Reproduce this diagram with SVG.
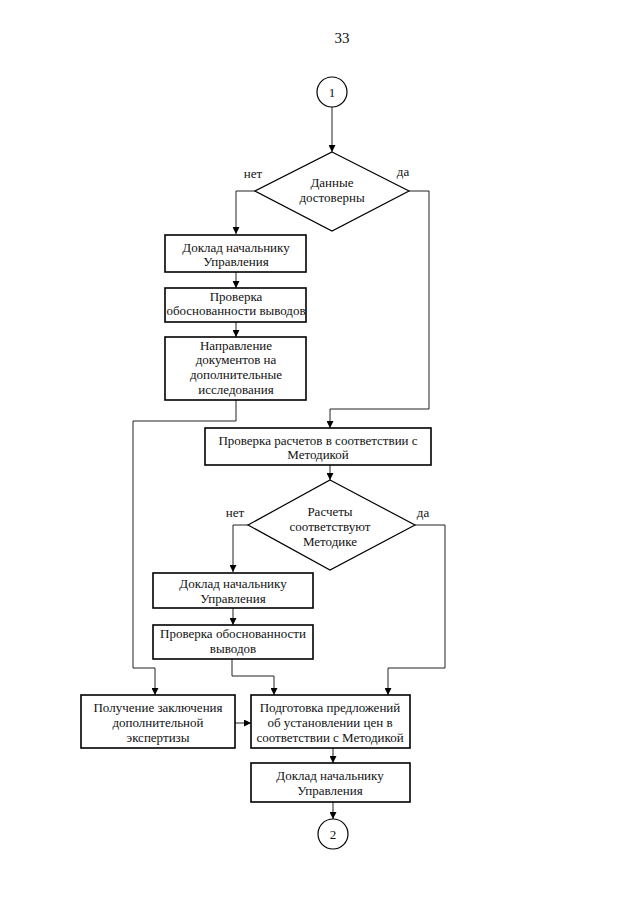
<svg xmlns="http://www.w3.org/2000/svg" width="640" height="905" viewBox="0 0 640 905">
<style>
.box{fill:#fff;stroke:#000;stroke-width:1.6}
.dia{fill:#fff;stroke:#000;stroke-width:1.2}
.con{fill:none;stroke:#222;stroke-width:1}
text{font-family:"Liberation Serif","DejaVu Serif","Times New Roman",serif;font-size:13px;fill:#111;text-anchor:middle}
</style>
<defs>
<marker id="ah" viewBox="0 0 10 10" refX="10" refY="5" markerWidth="7" markerHeight="7" markerUnits="userSpaceOnUse" orient="auto">
<path d="M0,0 L10,5 L0,10 z" fill="#000"/>
</marker>
</defs>
<rect width="640" height="905" fill="#fff"/>
<text x="342" y="43" style="font-size:15px">33</text>

<g id="connectors">
<line class="con" x1="332" y1="107" x2="332" y2="152" marker-end="url(#ah)"/>
<polyline class="con" points="255,191 236,191 236,234" marker-end="url(#ah)"/>
<polyline class="con" points="409,191 429,191 429,409 330,409 330,428" marker-end="url(#ah)"/>
<line class="con" x1="236" y1="272" x2="236" y2="288" marker-end="url(#ah)"/>
<line class="con" x1="236" y1="322" x2="236" y2="337" marker-end="url(#ah)"/>
<polyline class="con" points="236,400 236,421 133,421 133,668 155,668 155,695" marker-end="url(#ah)"/>
<line class="con" x1="330" y1="465" x2="330" y2="480" marker-end="url(#ah)"/>
<polyline class="con" points="248,525 233,525 233,572" marker-end="url(#ah)"/>
<polyline class="con" points="415,525 445,525 445,668 388,668 388,695" marker-end="url(#ah)"/>
<line class="con" x1="233" y1="608" x2="233" y2="625" marker-end="url(#ah)"/>
<polyline class="con" points="232,659 232,676 274,676 274,695" marker-end="url(#ah)"/>
<line class="con" x1="235" y1="723" x2="251" y2="723" marker-end="url(#ah)"/>
<line class="con" x1="333" y1="748" x2="333" y2="763" marker-end="url(#ah)"/>
<line class="con" x1="333" y1="802" x2="333" y2="819" marker-end="url(#ah)"/>
</g>

<g id="start">
<circle cx="332" cy="92" r="15" class="dia"/>
<text x="332" y="97">1</text>
</g>

<g id="decision1">
<polygon class="dia" points="332,152 409,191 332,231 255,191"/>
<text x="332" y="187">Данные</text>
<text x="332" y="202">достоверны</text>
<text x="253" y="178">нет</text>
<text x="403" y="176">да</text>
</g>

<g id="report1">
<rect class="box" x="165" y="235" width="141" height="37"/>
<text x="236" y="252">Доклад начальнику</text>
<text x="236" y="266">Управления</text>
</g>

<g id="check1">
<rect class="box" x="165" y="288" width="141" height="34"/>
<text x="236" y="301">Проверка</text>
<text x="236" y="315" textLength="139" lengthAdjust="spacingAndGlyphs">обоснованности выводов</text>
</g>

<g id="send">
<rect class="box" x="165" y="337" width="141" height="63"/>
<text x="236" y="350">Направление</text>
<text x="236" y="364">документов на</text>
<text x="236" y="379">дополнительные</text>
<text x="236" y="394">исследования</text>
</g>

<g id="checkcalc">
<rect class="box" x="205" y="428" width="226" height="37"/>
<text x="318" y="445">Проверка расчетов в соответствии с</text>
<text x="318" y="459">Методикой</text>
</g>

<g id="decision2">
<polygon class="dia" points="330,480 415,525 330,570 248,525"/>
<text x="330" y="516">Расчеты</text>
<text x="330" y="531">соответствуют</text>
<text x="330" y="546">Методике</text>
<text x="235" y="517">нет</text>
<text x="423" y="517">да</text>
</g>

<g id="report2">
<rect class="box" x="153" y="573" width="160" height="35"/>
<text x="233" y="588">Доклад начальнику</text>
<text x="233" y="603">Управления</text>
</g>

<g id="check2">
<rect class="box" x="153" y="625" width="160" height="34"/>
<text x="233" y="638">Проверка обоснованности</text>
<text x="233" y="653">выводов</text>
</g>

<g id="expertise">
<rect class="box" x="81" y="695" width="154" height="53"/>
<text x="158" y="712">Получение заключения</text>
<text x="158" y="727">дополнительной</text>
<text x="158" y="742">экспертизы</text>
</g>

<g id="prepare">
<rect class="box" x="251" y="695" width="159" height="53"/>
<text x="330" y="712">Подготовка предложений</text>
<text x="330" y="727">об установлении цен в</text>
<text x="330" y="742">соответствии с Методикой</text>
</g>

<g id="report3">
<rect class="box" x="251" y="763" width="159" height="39"/>
<text x="330" y="780">Доклад начальнику</text>
<text x="330" y="795">Управления</text>
</g>

<g id="end">
<circle cx="333" cy="834" r="15" class="dia"/>
<text x="333" y="839">2</text>
</g>
</svg>
